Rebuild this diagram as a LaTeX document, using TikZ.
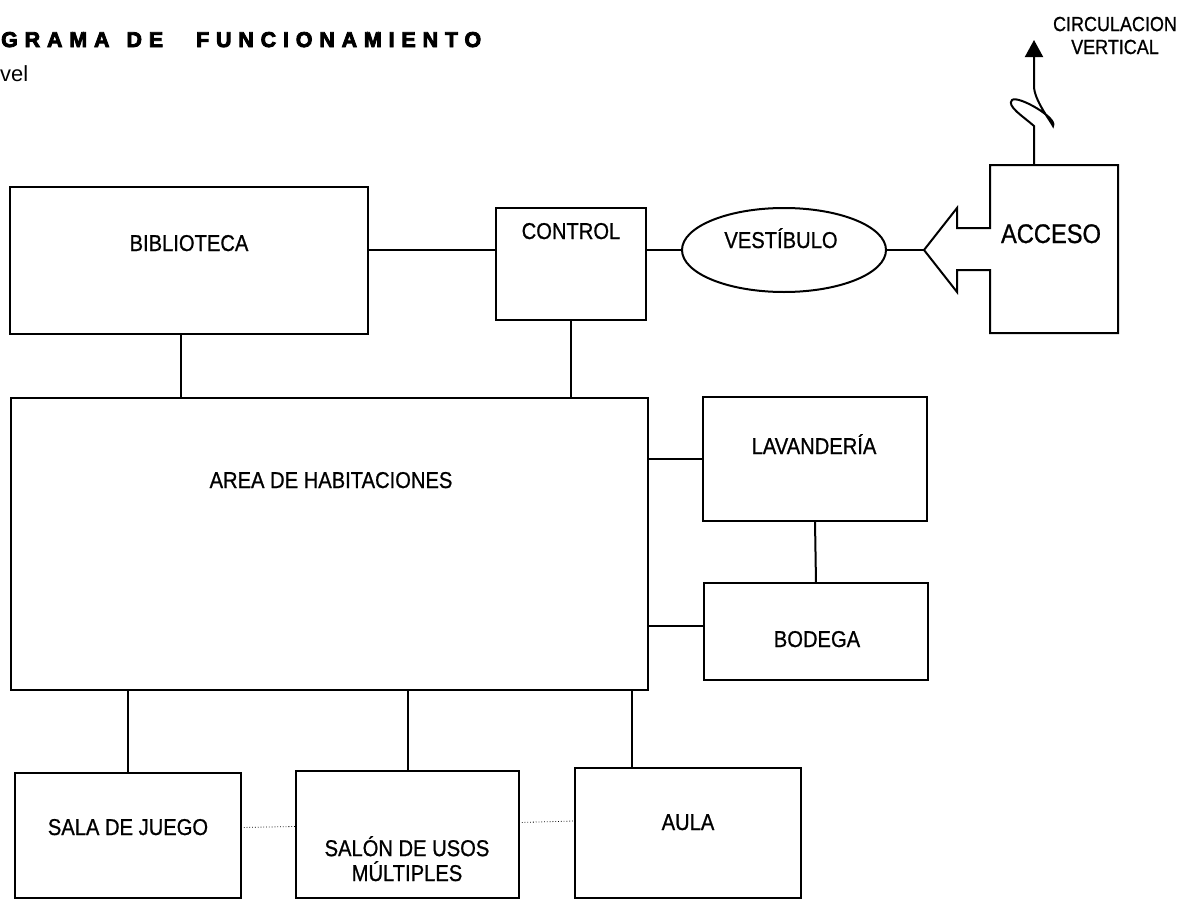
\documentclass[tikz,border=0pt]{standalone}
\usepackage{fontspec}
\setmainfont{Liberation Sans}
\newfontfamily\titlefont[LetterSpace=32, FakeBold=4]{Liberation Sans Bold}
\newfontfamily\roomfont[FakeStretch=0.88, FakeBold=0.8]{Liberation Sans}
\usetikzlibrary{arrows.meta, positioning, calc, shapes.geometric}

\begin{document}
\begin{tikzpicture}[x=1bp, y=-1bp,
    room/.style={draw, line width=2bp, inner sep=0pt, outer sep=0pt},
    conn/.style={line width=2bp},
    weak/.style={line width=0.8bp, dotted},
    txt/.style={font=\fontsize{23}{25}\selectfont\roomfont, inner sep=0pt, align=center, anchor=base}]
    \useasboundingbox (0,0) rectangle (1181,899);

    % Title
    \node[anchor=base west, inner sep=0pt, font=\fontsize{21.5}{24}\selectfont\titlefont] (title) at (1,47) {GRAMA\hspace{17bp}DE\hspace{33bp}FUNCIONAMIENTO};
    \node[txt, anchor=base west, font=\fontsize{22}{25}\selectfont] (level) at (0,81) {vel};

    % Upper row
    \node[room, minimum width=358bp, minimum height=147bp] (biblio) at (189,260.5) {};
    \node[txt] (biblio-lbl) at (189,251) {BIBLIOTECA};
    \node[room, minimum width=150bp, minimum height=112bp] (control) at (571,264) {};
    \node[txt] (control-lbl) at (571,239) {CONTROL};
    \node[room, ellipse, minimum width=204bp, minimum height=84bp] (vestib) at (784,250) {};
    \node[txt] (vestib-lbl) at (781,248) {VESTÍBULO};

    % Access
    \coordinate (tip) at (924,250);
    \draw[conn, line join=miter] (990,228) -- (957,228) -- (957,208) -- (tip) -- (957,292) -- (957,270) -- (990,270)
        -- (990,333) -- (1118,333) -- (1118,165) -- (990,165) -- cycle;
    \node[txt, font=\fontsize{27}{30}\selectfont\roomfont] (acceso) at (1051,243) {ACCESO};

    % Vertical circulation
    \coordinate (circ-base) at (1034,165);
    \coordinate (circ-tip) at (1034,40);
    \node[txt, font=\fontsize{20.5}{23}\selectfont\roomfont] (circ) at (1115,54) {CIRCULACION\\VERTICAL};
    \draw[conn, -{Triangle[length=17bp, width=18bp]}] (circ-base) -- (1034,126)
        .. controls (1024,117) and (1006,106) .. (1012,100)
        .. controls (1018,95) and (1058,118) .. (1053,126)
        .. controls (1050,120) and (1034,100) .. (1034,86) -- (circ-tip);

    % Rooms
    \node[room, minimum width=637bp, minimum height=292bp] (habit) at (329.5,544) {};
    \node[txt] (habit-lbl) at (331,488) {AREA DE HABITACIONES};
    \node[room, minimum width=224bp, minimum height=124bp] (lavand) at (815,459) {};
    \node[txt] (lavand-lbl) at (814,454) {LAVANDERÍA};
    \node[room, minimum width=224bp, minimum height=97bp] (bodega) at (816,631.5) {};
    \node[txt] (bodega-lbl) at (817,647) {BODEGA};

    % Bottom row
    \node[room, minimum width=226bp, minimum height=125bp] (juego) at (128,835.5) {};
    \node[txt] (juego-lbl) at (128,835) {SALA DE JUEGO};
    \node[room, minimum width=223bp, minimum height=127bp] (usos) at (407.5,834.5) {};
    \node[txt] (usos-lbl) at (407,881) {SALÓN DE USOS\\MÚLTIPLES};
    \node[room, minimum width=226bp, minimum height=130bp] (aula) at (688,833) {};
    \node[txt] (aula-lbl) at (688,830) {AULA};

    % Links
    \draw[conn] (biblio.east |- vestib.center) -- (control.west |- vestib.center);
    \draw[conn] (control.east |- vestib.west) -- (vestib.west);
    \draw[conn] (vestib.east) -- (tip);
    \draw[conn] ([xshift=-8bp]biblio.south) -- ([xshift=-8bp]biblio.south |- habit.north);
    \draw[conn] (control.south) -- (control.south |- habit.north);
    \draw[conn] (lavand.west) -- (lavand.west -| habit.east);
    \draw[conn] ([yshift=6bp]bodega.west) -- ([yshift=6bp]bodega.west -| habit.east);
    \draw[conn] (lavand.south) -- (bodega.north);
    \draw[conn] (juego.north) -- (juego.north |- habit.south);
    \draw[conn] (usos.north) -- (usos.north |- habit.south);
    \draw[conn] ([xshift=-56bp]aula.north) -- ([xshift=-56bp]aula.north |- habit.south);
    \draw[weak] ([yshift=8bp]juego.east) -- ([yshift=8bp]usos.west);
    \draw[weak] ([yshift=12bp]usos.east) -- ([yshift=12bp]aula.west);
\end{tikzpicture}
\end{document}
